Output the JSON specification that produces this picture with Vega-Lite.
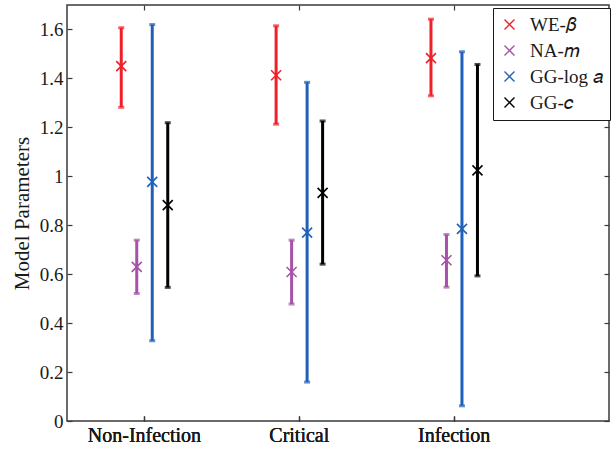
{
  "$schema": "https://vega.github.io/schema/vega-lite/v6.json",
  "width": 542,
  "height": 416,
  "autosize": {"type": "none"},
  "padding": {"left": 67, "top": 5, "right": 4, "bottom": 29},
  "config": {
    "font": "Liberation Serif",
    "view": {"stroke": "#3a3a3a", "strokeWidth": 1.5},
    "axis": {
      "labelFont": "Liberation Serif",
      "titleFont": "Liberation Serif",
      "labelColor": "#1a1a1a",
      "titleColor": "#1a1a1a",
      "tickColor": "#3a3a3a",
      "tickWidth": 1.2,
      "domain": false,
      "grid": false
    },
    "legend": {
      "labelFont": "Liberation Serif",
      "labelFontSize": 19,
      "labelColor": "#1a1a1a"
    }
  },
  "data": {
    "values": [
      {"group": "Non-Infection", "series": "WE-𝛽", "mean": 1.450, "low": 1.282, "high": 1.607},
      {"group": "Non-Infection", "series": "NA-𝑚", "mean": 0.630, "low": 0.521, "high": 0.739},
      {"group": "Non-Infection", "series": "GG-log 𝑎", "mean": 0.977, "low": 0.328, "high": 1.620},
      {"group": "Non-Infection", "series": "GG-𝑐", "mean": 0.882, "low": 0.546, "high": 1.219},
      {"group": "Critical", "series": "WE-𝛽", "mean": 1.413, "low": 1.213, "high": 1.615},
      {"group": "Critical", "series": "NA-𝑚", "mean": 0.609, "low": 0.478, "high": 0.739},
      {"group": "Critical", "series": "GG-log 𝑎", "mean": 0.770, "low": 0.159, "high": 1.384},
      {"group": "Critical", "series": "GG-𝑐", "mean": 0.932, "low": 0.641, "high": 1.226},
      {"group": "Infection", "series": "WE-𝛽", "mean": 1.483, "low": 1.329, "high": 1.642},
      {"group": "Infection", "series": "NA-𝑚", "mean": 0.657, "low": 0.547, "high": 0.762},
      {"group": "Infection", "series": "GG-log 𝑎", "mean": 0.785, "low": 0.062, "high": 1.509},
      {"group": "Infection", "series": "GG-𝑐", "mean": 1.024, "low": 0.593, "high": 1.457}
    ]
  },
  "encoding": {
    "x": {
      "field": "group",
      "type": "nominal",
      "sort": ["Non-Infection", "Critical", "Infection"],
      "scale": {"paddingInner": 0, "paddingOuter": 0.25, "align": 0},
      "axis": {"title": null, "labelAngle": 0, "labelFontSize": 20, "tickSize": -5, "labelPadding": 9, "orient": "bottom"}
    },
    "xOffset": {
      "field": "series",
      "type": "nominal",
      "sort": ["WE-𝛽", "NA-𝑚", "GG-log 𝑎", "GG-𝑐"],
      "scale": {"paddingInner": 0, "paddingOuter": 0, "range": [46.5, 108.5]}
    },
    "color": {
      "field": "series",
      "type": "nominal",
      "sort": ["WE-𝛽", "NA-𝑚", "GG-log 𝑎", "GG-𝑐"],
      "scale": {
        "domain": ["WE-𝛽", "NA-𝑚", "GG-log 𝑎", "GG-𝑐"],
        "range": ["#f0202a", "#a552a8", "#2060b8", "#000000"]
      },
      "legend": {
        "title": null,
        "orient": "none",
        "legendX": 426,
        "legendY": 3,
        "symbolType": "M-1,-1L1,1M-1,1L1,-1",
        "symbolSize": 100,
        "symbolStrokeWidth": 1.4,
        "symbolOpacity": 1,
        "symbolFillColor": "transparent",
        "labelOffset": 11,
        "rowPadding": 6,
        "padding": 7,
        "strokeColor": "#1a1a1a",
        "fillColor": "#fff",
        "cornerRadius": 0,
        "labelLimit": 200
      }
    }
  },
  "layer": [
    {
      "mark": {"type": "rule", "strokeWidth": 3},
      "encoding": {
        "y": {
          "field": "low",
          "type": "quantitative",
          "scale": {"domain": [0, 1.7], "nice": false, "zero": false},
          "axis": {
            "orient": "left",
            "title": "Model Parameters",
            "titleFontSize": 21,
            "titleFontWeight": "normal",
            "titlePadding": 7,
            "labelFontSize": 19,
            "values": [0, 0.2, 0.4, 0.6, 0.8, 1, 1.2, 1.4, 1.6],
            "format": ".1~f",
            "tickSize": -5,
            "labelPadding": 9
          }
        },
        "y2": {"field": "high"}
      }
    },
    {
      "mark": {"type": "tick", "thickness": 3, "size": 6},
      "encoding": {
        "y": {
          "field": "low",
          "type": "quantitative",
          "axis": {
            "orient": "right",
            "title": null,
            "labels": false,
            "values": [0, 0.2, 0.4, 0.6, 0.8, 1, 1.2, 1.4, 1.6],
            "tickSize": -5
          }
        }
      }
    },
    {
      "mark": {"type": "tick", "thickness": 3, "size": 6},
      "encoding": {
        "x": {
          "field": "group",
          "type": "nominal",
          "sort": ["Non-Infection", "Critical", "Infection"],
          "axis": {"orient": "top", "title": null, "labels": false, "tickSize": -5}
        },
        "y": {"field": "high", "type": "quantitative", "axis": null}
      }
    },
    {
      "mark": {"type": "point", "shape": "M-1,-1L1,1M-1,1L1,-1", "filled": false, "size": 100, "strokeWidth": 1.6, "opacity": 1},
      "encoding": {
        "y": {"field": "mean", "type": "quantitative", "axis": null}
      }
    }
  ]
}
